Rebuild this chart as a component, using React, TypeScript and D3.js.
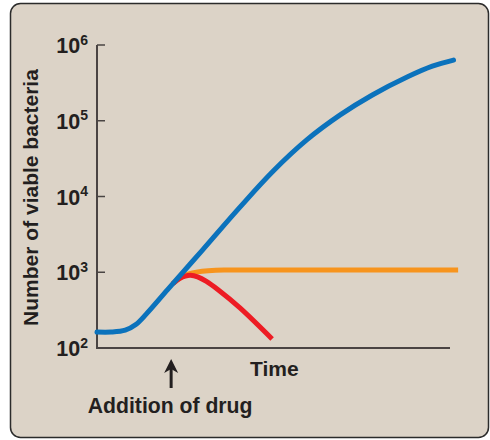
import React from "react";
import * as d3 from "d3";

// Time in arbitrary units (0..100 spans the x-axis); values are log10(count)
const untreatedT = [0, 4, 8, 11, 14, 20, 30, 40.5, 50, 59.5, 69, 78, 88, 95, 101];
const untreatedV = [2.21, 2.21, 2.235, 2.31, 2.45, 2.77, 3.3, 3.86, 4.34, 4.75, 5.08, 5.34, 5.58, 5.72, 5.8];

const staticT = [21.5, 24, 26, 28.5, 31.5, 36, 45, 70, 102.3];
const staticV = [2.85, 2.94, 2.98, 3.005, 3.02, 3.03, 3.03, 3.03, 3.03];

const cidalT = [21.5, 23.5, 25, 26.5, 28.5, 31, 34.3, 40.5, 49.6];
const cidalV = [2.85, 2.92, 2.95, 2.96, 2.94, 2.88, 2.77, 2.53, 2.12];

const yTicks = [1e2, 1e3, 1e4, 1e5, 1e6];
const yTickExps = ["2", "3", "4", "5", "6"];

const yTitle = "Number of viable bacteria";
const xTitle = "Time";
const drugLabel = "Addition of drug";
const drugTime = 21;

const FONT = "'Liberation Sans', Arial, Helvetica, sans-serif";

export default function App() {
  const x = d3.scaleLinear().domain([0, 100]).range([97, 450]);
  const y = d3.scaleLog().domain([1e2, 1e6]).range([348, 45]);

  const mk = (ts: number[], vs: number[]) => ts.map((t, i) => [t, Math.pow(10, vs[i])] as [number, number]);
  const line = d3
    .line<[number, number]>()
    .x((d) => x(d[0]))
    .y((d) => y(d[1]))
    .curve(d3.curveCatmullRom.alpha(0.5));

  const blue = line(mk(untreatedT, untreatedV)) || "";
  const orange = line(mk(staticT, staticV)) || "";
  const red = line(mk(cidalT, cidalV)) || "";

  const axisColor = "#4a4443";
  const textColor = "#231f20";
  const ax = x(0);
  const ay = y(1e2);
  const arrowX = x(drugTime);

  return (
    <svg width={490} height={440} style={{ position: "absolute", left: 0, top: 0 }}>
      <rect x={0} y={0} width={490} height={440} fill="#ffffff" />
      <rect x={10.5} y={3.5} width={478} height={434} rx={10} ry={10} fill="#dcd3c7" stroke="#2b2b2b" strokeWidth={1.5} />

      {/* axes */}
      <line x1={ax} y1={y(1e6)} x2={ax} y2={ay + 1} stroke={axisColor} strokeWidth={2} />
      <line x1={ax} y1={ay} x2={x(100)} y2={ay} stroke={axisColor} strokeWidth={2} />
      {yTicks.map((t, i) => (
        <g key={t}>
          {i > 0 && <line x1={ax} x2={ax + 8} y1={y(t)} y2={y(t)} stroke={axisColor} strokeWidth={1.5} />}
          <text x={88} y={y(t) + 8} textAnchor="end" fontFamily={FONT} fontWeight="bold" fill={textColor} fontSize={21.5}>
            <tspan>10</tspan>
            <tspan dy={-8.5} fontSize={14}>{yTickExps[i]}</tspan>
          </text>
        </g>
      ))}

      {/* curves */}
      <path d={orange} fill="none" stroke="#f7941d" strokeWidth={5} strokeLinecap="butt" />
      <path d={red} fill="none" stroke="#ed1c24" strokeWidth={5} strokeLinecap="butt" />
      <path d={blue} fill="none" stroke="#0b72bc" strokeWidth={5} strokeLinecap="round" />

      {/* titles */}
      <text
        transform={`translate(38, ${(y(1e6) + ay) / 2 + 1}) rotate(-90)`}
        textAnchor="middle"
        fontFamily={FONT}
        fontWeight="bold"
        fontSize={21}
        fill={textColor}
      >
        {yTitle}
      </text>
      <text x={250} y={376} fontFamily={FONT} fontWeight="bold" fontSize={21} fill={textColor}>
        {xTitle}
      </text>

      {/* drug arrow */}
      <line x1={arrowX} x2={arrowX} y1={368} y2={388} stroke={textColor} strokeWidth={3} />
      <path d={`M${arrowX},359 L${arrowX - 7},373 L${arrowX},369 L${arrowX + 7},373 Z`} fill={textColor} />
      <text x={arrowX - 1} y={413} textAnchor="middle" fontFamily={FONT} fontWeight="bold" fontSize={21.2} fill={textColor}>
        {drugLabel}
      </text>
    </svg>
  );
}
